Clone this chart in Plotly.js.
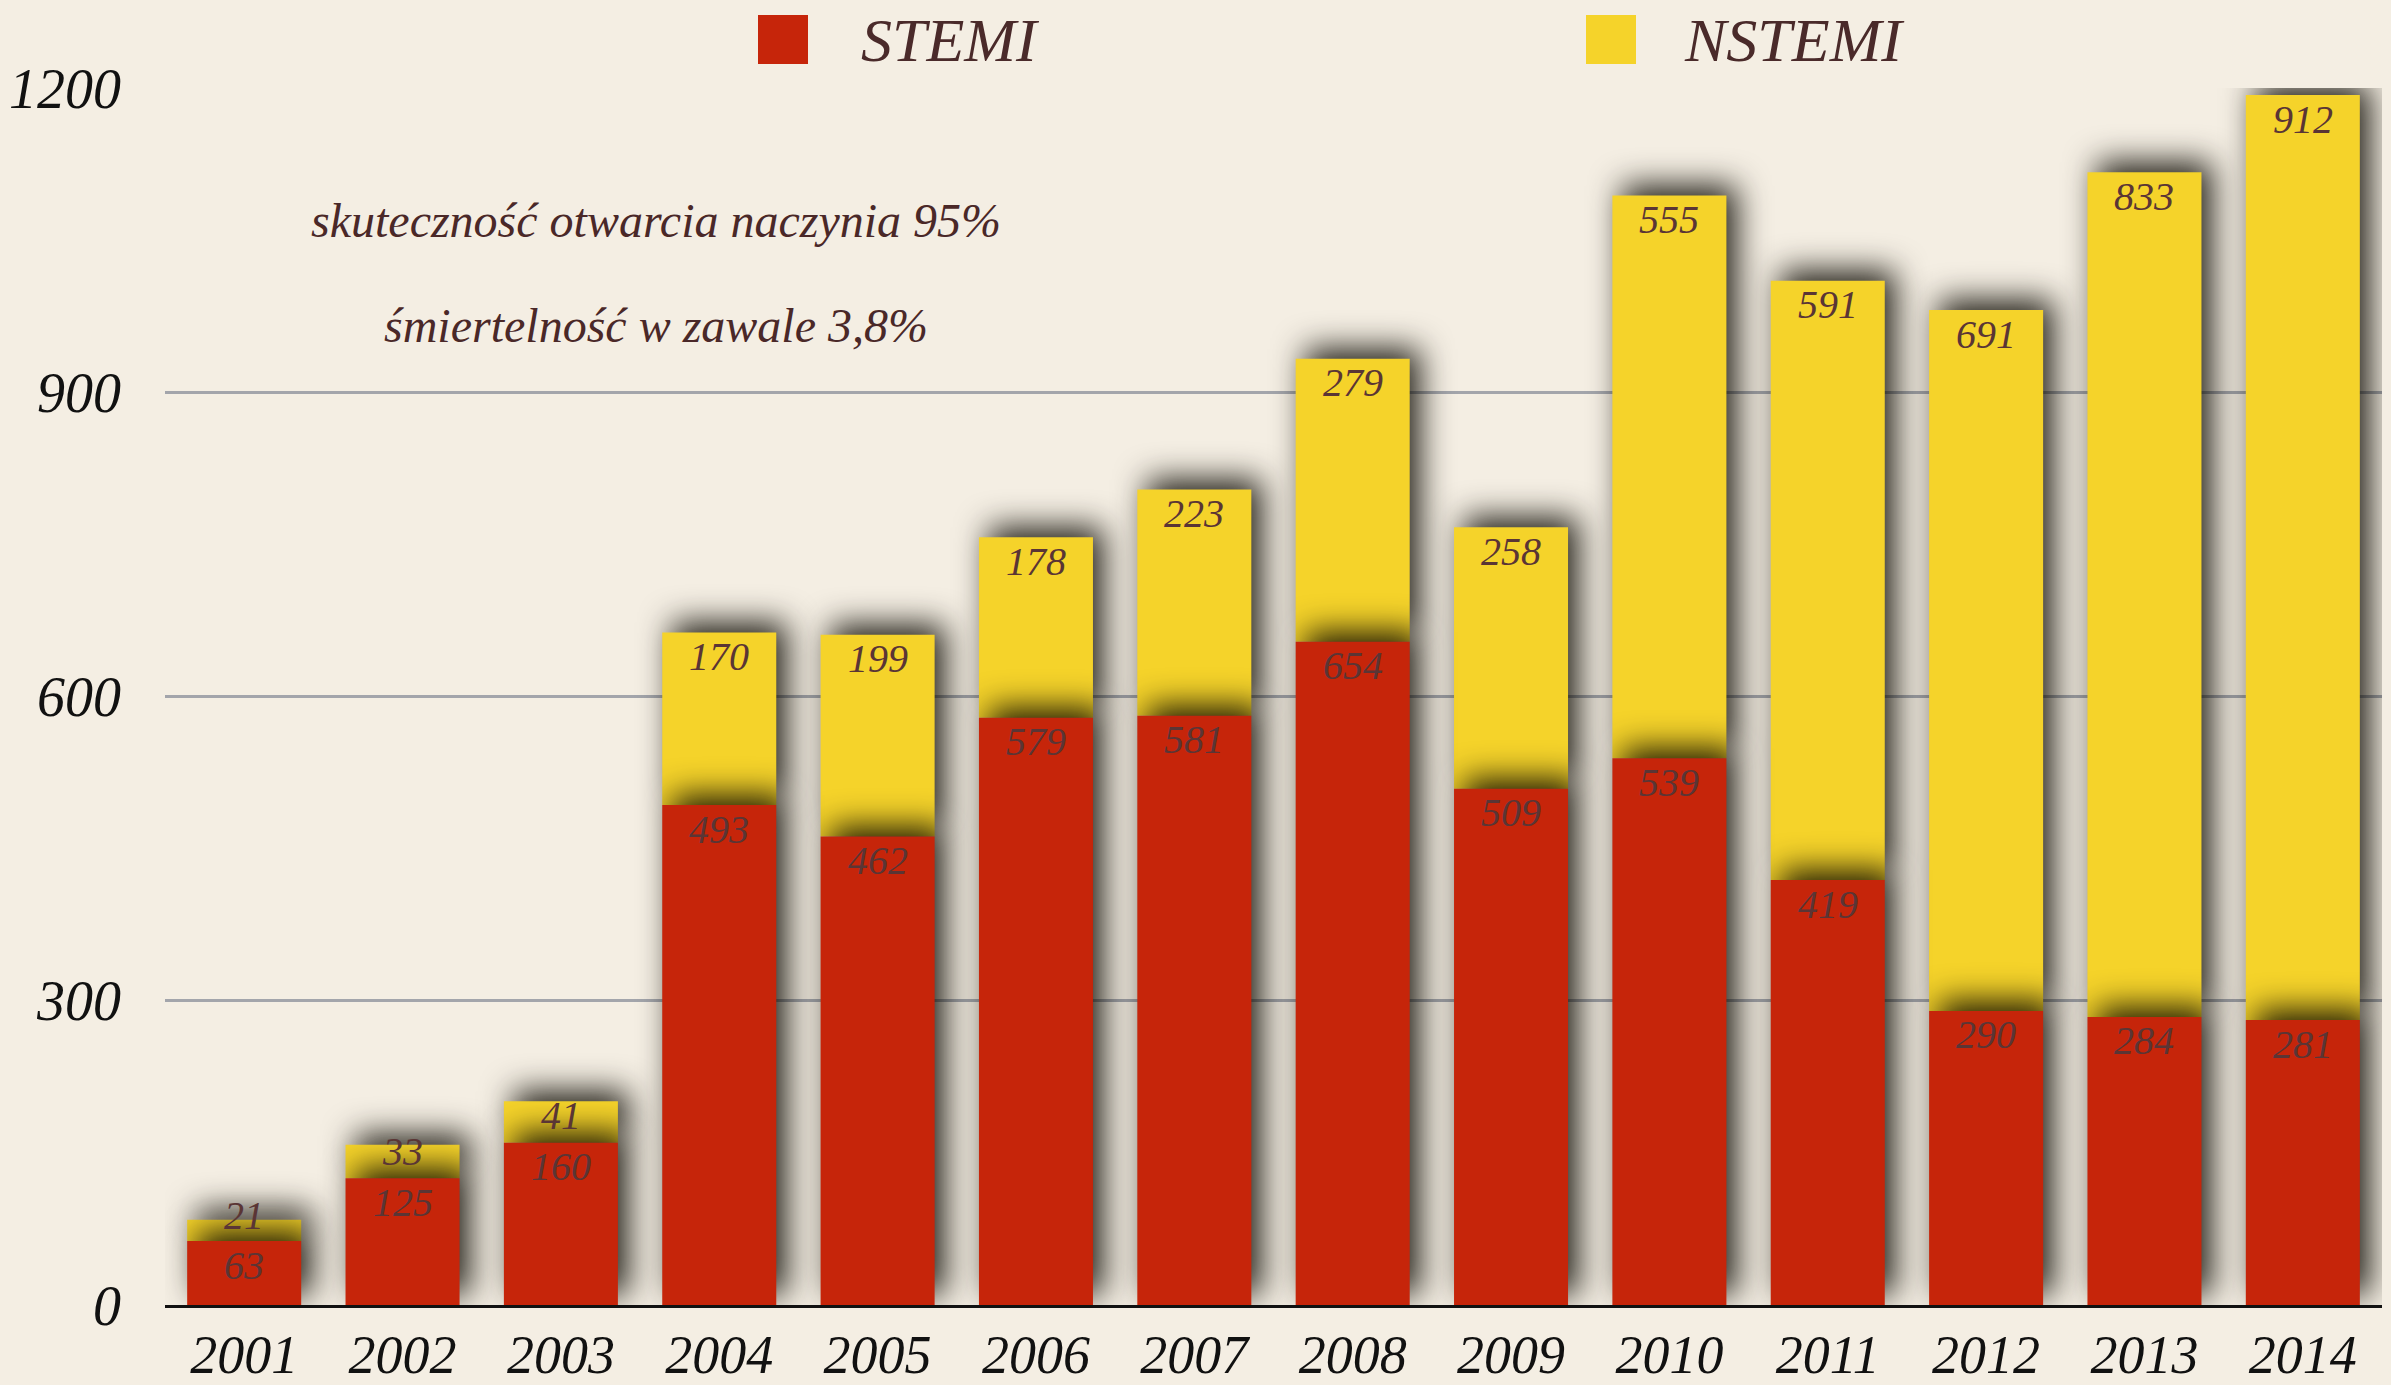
<!DOCTYPE html>
<html>
<head>
<meta charset="utf-8">
<script src="https://cdn.plot.ly/plotly-3.0.1.min.js"></script>
<style>
  html, body { margin: 0; padding: 0; background: #f4eee3; }
  #chart { width: 2391px; height: 1385px; }
  .barlayer .point path { filter: drop-shadow(10px -10px 16px rgba(10,8,0,0.9)); }
</style>
</head>
<body>
<div id="chart"></div>
<script>
const years = ['2001','2002','2003','2004','2005','2006','2007','2008','2009','2010','2011','2012','2013','2014'];
const stemi = [63,125,160,493,462,579,581,654,509,539,419,290,284,281];
const nstemi = [21,33,41,170,199,178,223,279,258,555,591,691,833,912];
const yTicks = [0,300,600,900,1200];
const noteLines = ['skuteczność otwarcia naczynia 95%', 'śmiertelność w zawale 3,8%'];
const seriesNames = ['STEMI','NSTEMI'];

const RED = '#c6250a';
const YELLOW = '#f5d32a';
const LABEL = '#5a3535';
const FONT = 'Liberation Serif, Times New Roman, serif';
const YMAX = 1200;

const labelFont = {family: FONT, size: 40, color: LABEL, style: 'italic'};

const traces = [
  {
    type: 'bar', name: seriesNames[1], x: years, y: nstemi, base: stemi,
    marker: {color: YELLOW, line: {width: 0}},
    hoverinfo: 'skip', showlegend: false
  },
  {
    type: 'bar', name: seriesNames[0], x: years, y: stemi,
    marker: {color: RED, line: {width: 0}},
    hoverinfo: 'skip', showlegend: false
  }
];

const L = 165, R = 9, T = 88, B = 80, W = 2391, H = 1385;
const pw = W - L - R, ph = H - T - B;
const px = v => (v - L) / pw;
const py = v => (H - B - v) / ph;
const unitPx = ph / YMAX;

// label offset below the segment top (in px) — small segments get their label nearer the top edge
function labelShift(value) {
  const h = value * unitPx;
  return Math.max(-24, Math.min(6, 5 - 0.95 * (h - 21)));
}

const shapes = [
  {type: 'rect', xref: 'paper', yref: 'paper', x0: px(758), x1: px(808), y0: py(64), y1: py(15), fillcolor: RED, line: {width: 0}},
  {type: 'rect', xref: 'paper', yref: 'paper', x0: px(1586), x1: px(1636), y0: py(64), y1: py(15), fillcolor: YELLOW, line: {width: 0}}
];

const annotations = [
  {xref: 'paper', yref: 'paper', x: px(859), y: py(40), xanchor: 'left', yanchor: 'middle', showarrow: false,
   text: seriesNames[0], font: {family: FONT, size: 62, color: '#4a2a2a', style: 'italic'}},
  {xref: 'paper', yref: 'paper', x: px(1682), y: py(40), xanchor: 'left', yanchor: 'middle', showarrow: false,
   text: seriesNames[1], font: {family: FONT, size: 62, color: '#4a2a2a', style: 'italic'}},
  {xref: 'paper', yref: 'paper', x: px(656), y: py(220), xanchor: 'center', yanchor: 'middle', showarrow: false,
   text: noteLines[0], font: {family: FONT, size: 48, color: '#4a2828', style: 'italic'}},
  {xref: 'paper', yref: 'paper', x: px(656), y: py(325), xanchor: 'center', yanchor: 'middle', showarrow: false,
   text: noteLines[1], font: {family: FONT, size: 48, color: '#4a2828', style: 'italic'}}
];

years.forEach((yr, i) => {
  annotations.push({
    x: i, y: stemi[i], xref: 'x', yref: 'y', showarrow: false, xanchor: 'center', yanchor: 'middle',
    yshift: labelShift(stemi[i]), text: String(stemi[i]), font: labelFont
  });
  annotations.push({
    x: i, y: stemi[i] + nstemi[i], xref: 'x', yref: 'y', showarrow: false, xanchor: 'center', yanchor: 'middle',
    yshift: labelShift(nstemi[i]), text: String(nstemi[i]), font: labelFont
  });
});

const layout = {
  width: W, height: H,
  margin: {l: L, r: R, t: T, b: B, pad: 0},
  paper_bgcolor: '#f4eee3', plot_bgcolor: '#f4eee3',
  barmode: 'overlay', bargap: 0.28,
  showlegend: false,
  xaxis: {
    type: 'category', range: [-0.5, 13.5], showline: true, linecolor: '#111111', linewidth: 3,
    showgrid: false, ticks: '', ticklabelstandoff: 0,
    tickfont: {family: FONT, size: 54, color: '#111111', style: 'italic'}
  },
  yaxis: {
    range: [0, YMAX], tickvals: yTicks, ticktext: yTicks.map(String),
    showgrid: true, gridcolor: '#a3a5ab', gridwidth: 3, zeroline: false, showline: false,
    ticks: '', ticklabelstandoff: 43,
    tickfont: {family: FONT, size: 56, color: '#111111', style: 'italic'}
  },
  shapes: shapes,
  annotations: annotations
};

Plotly.newPlot('chart', traces, layout, {staticPlot: true});
</script>
</body>
</html>
